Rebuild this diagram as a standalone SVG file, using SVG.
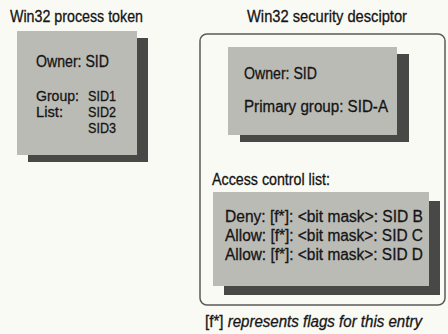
<svg xmlns="http://www.w3.org/2000/svg" width="448" height="334" viewBox="0 0 448 334">
<style>
text{font-family:"Liberation Sans",Arial,sans-serif;fill:#151515;font-size:16px;stroke:#151515;stroke-width:0.3}
.title{font-size:16px}
.sm{font-size:15px}
.box{fill:#bbbbb6}
.shadow{fill:#484846}
.outer{fill:none;stroke:#5a5a58;stroke-width:1.5}
.it{font-style:italic}
</style>
<rect width="448" height="334" fill="#fafaf4"/>
<text class="title" x="10" y="22" textLength="133" lengthAdjust="spacingAndGlyphs">Win32 process token</text>
<text class="title" x="247" y="22" textLength="160" lengthAdjust="spacingAndGlyphs">Win32 security desciptor</text>
<g id="process-token">
<rect class="shadow" x="28" y="38" width="120" height="124"/>
<rect class="box" x="17" y="31" width="120" height="124"/>
<text x="36" y="67" textLength="73" lengthAdjust="spacingAndGlyphs">Owner: SID</text>
<text class="sm" x="36" y="101" textLength="43" lengthAdjust="spacingAndGlyphs">Group:</text>
<text class="sm" x="88" y="101" textLength="28" lengthAdjust="spacingAndGlyphs">SID1</text>
<text class="sm" x="36" y="117" textLength="27" lengthAdjust="spacingAndGlyphs">List:</text>
<text class="sm" x="88" y="117" textLength="28" lengthAdjust="spacingAndGlyphs">SID2</text>
<text class="sm" x="88" y="133" textLength="28" lengthAdjust="spacingAndGlyphs">SID3</text>
</g>
<g id="security-descriptor">
<rect class="outer" x="200" y="34" width="245" height="271" rx="7"/>
<g id="owner-group">
<rect class="shadow" x="240" y="54" width="169" height="88"/>
<rect class="box" x="228" y="47" width="169" height="88"/>
<text x="244" y="79" textLength="73" lengthAdjust="spacingAndGlyphs">Owner: SID</text>
<text x="244" y="112" textLength="144" lengthAdjust="spacingAndGlyphs">Primary group:  SID-A</text>
</g>
<text x="212" y="185" textLength="118" lengthAdjust="spacingAndGlyphs">Access control list:</text>
<g id="acl">
<rect class="shadow" x="224" y="201" width="216" height="94"/>
<rect class="box" x="213" y="192" width="216" height="94"/>
<text x="225" y="222" textLength="198" lengthAdjust="spacingAndGlyphs">Deny: [f*]: &lt;bit mask&gt;:  SID B</text>
<text x="225" y="241" textLength="198" lengthAdjust="spacingAndGlyphs">Allow: [f*]: &lt;bit mask&gt;: SID C</text>
<text x="225" y="260" textLength="198" lengthAdjust="spacingAndGlyphs">Allow: [f*]: &lt;bit mask&gt;: SID D</text>
</g>
</g>
<text x="205" y="327" textLength="217" lengthAdjust="spacingAndGlyphs">[f*] <tspan class="it">represents flags for this entry</tspan></text>
</svg>
